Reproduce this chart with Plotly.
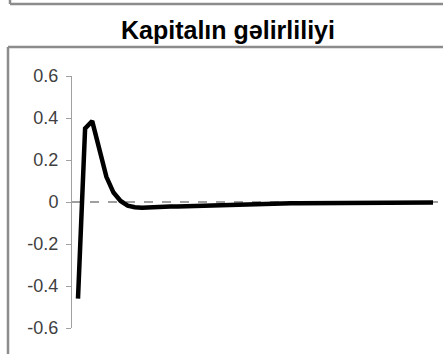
import plotly.graph_objects as go

# impulse response of capital return, by period
periods = list(range(51))
capital_return = [-0.46, 0.35, 0.385, 0.25, 0.12, 0.045, 0.005, -0.017, -0.025, -0.027,
                  -0.027, -0.027, -0.026, -0.022, -0.021, -0.02, -0.019, -0.017, -0.014, -0.013,
                  -0.012, -0.012, -0.011, -0.008, -0.008, -0.007, -0.007, -0.007, -0.007, -0.006,
                  -0.006, -0.006, -0.006, -0.003, -0.003, -0.003, -0.003, -0.003, -0.003, -0.003,
                  -0.002, -0.002, -0.002, -0.002, -0.002, -0.002, -0.002, -0.002, -0.002, -0.002,
                  -0.002]
y_ticks = [-0.6, -0.4, -0.2, 0, 0.2, 0.4, 0.6]
y_labels = ["-0.6", "-0.4", "-0.2", "0", "0.2", "0.4", "0.6"]

W, H = 443, 354
L, R, T, B = 72, 5, 76, 26
pw, ph = W - L - R, H - T - B


def px_x(p):
    return (p - L) / pw


def px_y(p):
    return (H - B - p) / ph


fig = go.Figure()
fig.add_trace(go.Scatter(x=periods, y=capital_return, mode="lines",
                         line=dict(color="black", width=4.5), showlegend=False))

# zero reference line
fig.add_hline(y=0, line=dict(color="#808080", width=1.5, dash="dash"), layer="below")

# frames of the chart boxes
border = dict(color="#8c8c8c", width=2.5)
fig.add_shape(type="line", xref="paper", yref="paper", x0=px_x(10), x1=px_x(443),
              y0=px_y(4), y1=px_y(4), line=border)
fig.add_shape(type="line", xref="paper", yref="paper", x0=px_x(10), x1=px_x(10),
              y0=px_y(0), y1=px_y(4), line=border)
fig.add_shape(type="line", xref="paper", yref="paper", x0=px_x(8), x1=px_x(443),
              y0=px_y(47), y1=px_y(47), line=border)
fig.add_shape(type="line", xref="paper", yref="paper", x0=px_x(8), x1=px_x(8),
              y0=px_y(47), y1=px_y(354), line=border)

fig.update_layout(
    width=W, height=H,
    margin=dict(l=L, r=R, t=T, b=B),
    paper_bgcolor="white", plot_bgcolor="white",
    font=dict(family="Liberation Sans, Arial", size=18, color="#404040"),
    title=dict(text="<b>Kapitalın gəlirliliyi</b>", x=228 / W,
               xanchor="center", y=1 - 30 / H, yanchor="middle",
               font=dict(size=25, color="black")),
    xaxis=dict(range=[-0.845, 50.7], visible=False),
    yaxis=dict(range=[-0.6, 0.6], tickvals=y_ticks, ticktext=y_labels,
               showgrid=False, zeroline=False, showline=True, linecolor="#a0a0a0",
               linewidth=1, ticks="outside", ticklen=5, tickcolor="#a0a0a0",
               ticklabelstandoff=4),
)

fig.write_html("out.html", config={"displayModeBar": False},
               post_script="document.body.style.margin='0';document.body.style.overflow='hidden';")
